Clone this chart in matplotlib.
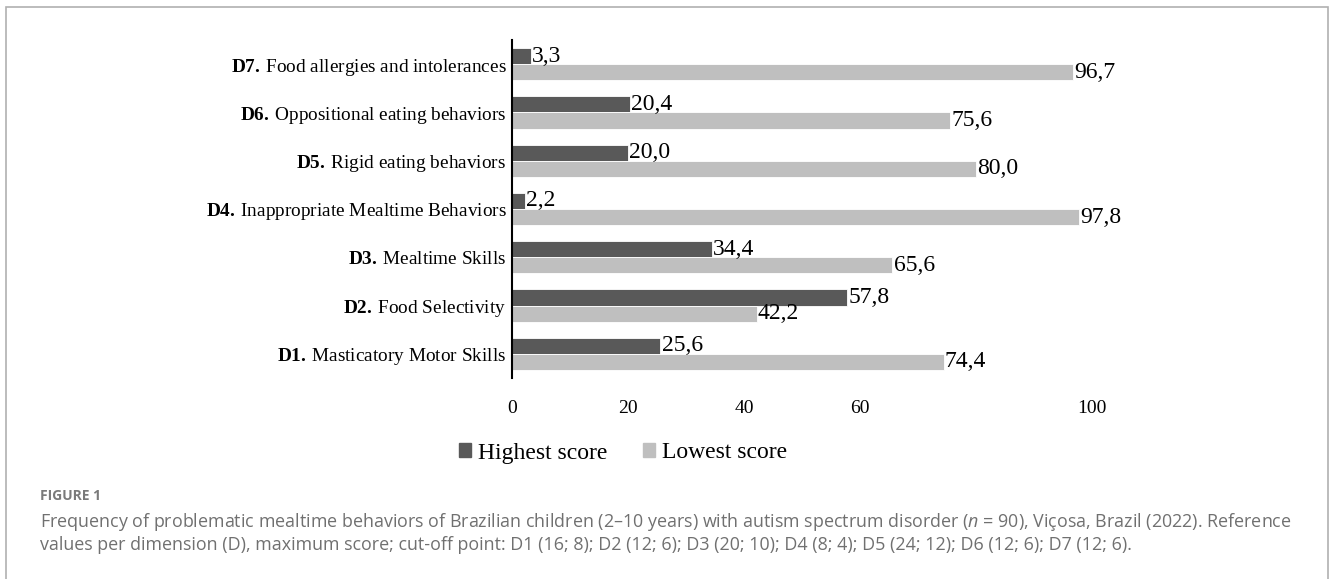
import numpy as np
import matplotlib
matplotlib.use("Agg")
import matplotlib.pyplot as plt
from matplotlib.patches import Rectangle

# data (bottom to top, D1..D7)
codes = ["D1.", "D2.", "D3.", "D4.", "D5.", "D6.", "D7."]
names = ["Masticatory Motor Skills", "Food Selectivity", "Mealtime Skills",
         "Inappropriate Mealtime Behaviors", "Rigid eating behaviors",
         "Oppositional eating behaviors", "Food allergies and intolerances"]
highest = [25.6, 57.8, 34.4, 2.2, 20.0, 20.4, 3.3]
lowest = [74.4, 42.2, 65.6, 97.8, 80.0, 75.6, 96.7]
xticks = [0, 20, 40, 60, 100]

plt.rcParams['mathtext.fontset'] = 'custom'
plt.rcParams['mathtext.rm'] = 'Liberation Serif'
plt.rcParams['mathtext.bf'] = 'Liberation Serif:bold'
plt.rcParams['mathtext.it'] = 'Open Sans:italic'

dark = '#595959'
light = '#bfbfbf'
serif = 'Liberation Serif'

W, H = 1330, 579
fig = plt.figure(figsize=(W / 100, H / 100), dpi=100)
ax = fig.add_axes([512 / W, 1 - 378 / H, (1092 - 512) / W, (378 - 40) / H])

y = np.arange(len(codes))
bh = 1 / 3
ax.barh(y + bh / 2, highest, height=bh, color=dark, edgecolor='white', linewidth=0.6)
ax.barh(y - bh / 2, lowest, height=bh, color=light, edgecolor='white', linewidth=0.6)

for i in range(len(codes)):
    for v, yy in ((highest[i], y[i] + bh / 2), (lowest[i], y[i] - bh / 2)):
        ax.text(v + 0.2, yy, f"{v:.1f}".replace('.', ','), va='center', ha='left',
                fontsize=17, family=serif, color='black')

ax.set_xlim(0, 100)
ax.set_ylim(-0.5, 6.5)
ax.set_xticks(xticks)
ax.set_xticklabels([str(t) for t in xticks], fontsize=14, family=serif)
ax.set_yticks(y)
ax.set_yticklabels([r"$\mathbf{%s}\,$" % c + n for c, n in zip(codes, names)],
                   fontsize=13.9, family=serif)
ax.tick_params(axis='x', length=0, pad=16)
ax.tick_params(axis='y', length=0, pad=4)
for s in ['top', 'right', 'bottom']:
    ax.spines[s].set_visible(False)
ax.spines['left'].set_linewidth(1.5)

h1 = Rectangle((0, 0), 1, 1, color=dark)
h2 = Rectangle((0, 0), 1, 1, color=light)
fig.legend([h1, h2], ["Highest score", "Lowest score"], loc='center',
           bbox_to_anchor=(623 / W, 1 - 453 / H), ncol=2, frameon=False,
           prop={'family': serif, 'size': 17}, handlelength=0.5, handleheight=0.5,
           handletextpad=0.3, columnspacing=1.5)

# caption
cap_color = '#707070'
fig.text(40 / W, 1 - 496 / H, "FIGURE 1", fontsize=10, family='Open Sans',
         weight='bold', color='#7a7a7a', va='center')
fig.text(40 / W, 1 - 522 / H,
         "Frequency of problematic mealtime behaviors of Brazilian children (2\u201310 years) with autism "
         "spectrum disorder ($n$ = 90), Vi\u00e7osa, Brazil (2022). Reference",
         fontsize=12.9, family='Open Sans', color=cap_color, va='center')
fig.text(40 / W, 1 - 545 / H,
         "values per dimension (D), maximum score; cut-off point: D1 (16; 8); D2 (12; 6); D3 (20; 10); "
         "D4 (8; 4); D5 (24; 12); D6 (12; 6); D7 (12; 6).",
         fontsize=12.9, family='Open Sans', color=cap_color, va='center')

# frame around figure (open at bottom)
fig.add_artist(Rectangle((6 / W, -0.1), (1328 - 6) / W, 1.1 - 7 / H, transform=fig.transFigure,
                         fill=False, edgecolor='#b0b0b0', linewidth=1.2))

fig.savefig('out.png', dpi=100)
